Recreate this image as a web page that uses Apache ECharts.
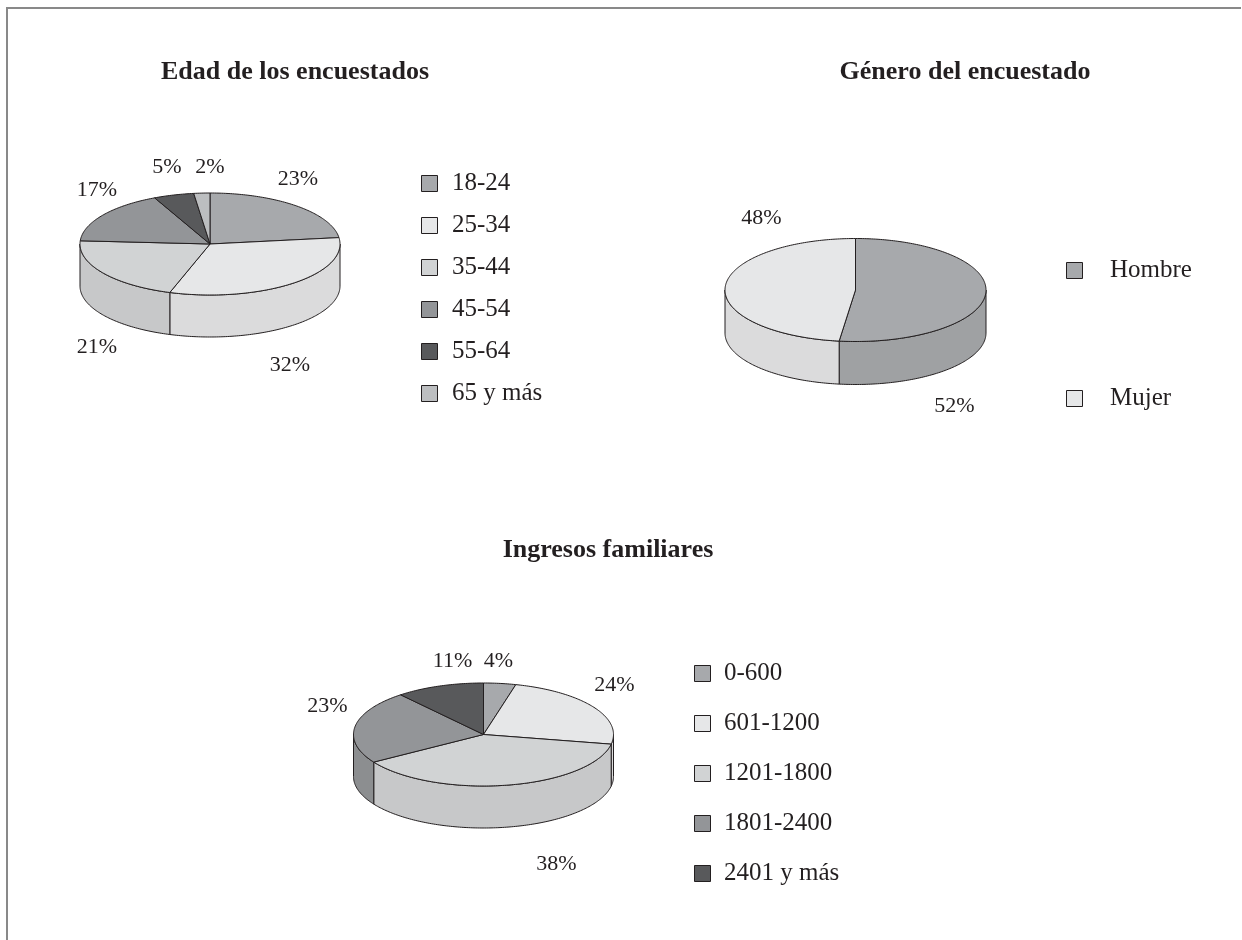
<!DOCTYPE html>
<html>
<head>
<meta charset="utf-8">
<script src="https://cdn.jsdelivr.net/npm/echarts@6/dist/echarts.min.js"></script>
<style>
html,body{margin:0;padding:0;background:#ffffff;}
#chart{width:1242px;height:940px;}
</style>
</head>
<body>
<div id="chart"></div>
<script>
// ---------- DATA ----------
const titles = ['Edad de los encuestados', 'Género del encuestado', 'Ingresos familiares'];

const ageCategories = ['18-24', '25-34', '35-44', '45-54', '55-64', '65 y más'];
const ageValues = [23, 32, 21, 17, 5, 2];

const genderCategories = ['Hombre', 'Mujer'];
const genderValues = [52, 48];

const incomeCategories = ['0-600', '601-1200', '1201-1800', '1801-2400', '2401 y más'];
const incomeValues = [4, 24, 38, 23, 11];

// ---------- STYLE / LAYOUT ----------
const ageColors = ['#a7a9ac', '#e6e7e8', '#d1d3d4', '#939598', '#58595b', '#bcbec0'];
const genderColors = ['#a7a9ac', '#e6e7e8'];
const incomeColors = ['#a7a9ac', '#e6e7e8', '#d1d3d4', '#939598', '#58595b'];

const ink = '#231f20';
const serif = '"Liberation Serif", "Times New Roman", serif';

// label offsets (pixels, relative to each pie's centre) for the percentage texts
const ageLabelOffsets = [[88, -65], [80, 121], [-113, 103], [-113, -54], [-43, -77], [0, -77]];
const genderLabelOffsets = [[99, 116], [-94, -72]];
const incomeLabelOffsets = [[15, -73], [131, -49], [73, 130], [-156, -28], [-31, -73]];

const pies = [
  { categories: ageCategories, values: ageValues, colors: ageColors, labelOffsets: ageLabelOffsets,
    cx: 210, cy: 244, rx: 130, ry: 51, depth: 42,
    legend: { x: 421, y: 183, gap: 42, textX: 452 } },
  { categories: genderCategories, values: genderValues, colors: genderColors, labelOffsets: genderLabelOffsets,
    cx: 855.5, cy: 290, rx: 130.5, ry: 51.5, depth: 43,
    legend: { x: 1066, y: 270, gap: 128, textX: 1110 } },
  { categories: incomeCategories, values: incomeValues, colors: incomeColors, labelOffsets: incomeLabelOffsets,
    cx: 483.5, cy: 734.5, rx: 130, ry: 51.5, depth: 42,
    legend: { x: 694, y: 673, gap: 50, textX: 724 } }
];

const titlePos = [[295, 72], [965, 72], [608, 550]];

function shade(hex, f) {
  const n = parseInt(hex.slice(1), 16);
  const r = Math.round(((n >> 16) & 255) * f);
  const g = Math.round(((n >> 8) & 255) * f);
  const b = Math.round((n & 255) * f);
  return 'rgb(' + r + ',' + g + ',' + b + ')';
}

function makeSeries(p, idx) {
  return {
    type: 'custom',
    name: 'pie' + idx,
    coordinateSystem: 'none',
    silent: true,
    animation: false,
    data: p.values.map((v, i) => ({ name: p.categories[i], value: v })),
    renderItem: function (params, api) {
      const i = params.dataIndex;
      const total = p.values.reduce((s, v) => s + v, 0);
      let before = 0;
      for (let k = 0; k < i; k++) before += p.values[k];
      const val = api.value(0);
      const a = before / total * 2 * Math.PI;
      const b = (before + val) / total * 2 * Math.PI;
      const pt = (t, dy) => [p.cx + p.rx * Math.sin(t), p.cy - p.ry * Math.cos(t) + (dy || 0)];
      const arc = (t0, t1, dy) => {
        const n = Math.max(2, Math.ceil((t1 - t0) / (Math.PI / 180)));
        const out = [];
        for (let k = 0; k <= n; k++) out.push(pt(t0 + (t1 - t0) * k / n, dy));
        return out;
      };
      const color = p.colors[i];
      const children = [];
      const s0 = Math.max(a, Math.PI / 2), s1 = Math.min(b, 1.5 * Math.PI);
      if (s1 > s0) {
        const pts = arc(s0, s1, 0).concat(arc(s0, s1, p.depth).reverse());
        children.push({ type: 'polygon', shape: { points: pts },
          style: { fill: shade(color, 0.95), stroke: ink, lineWidth: 1, lineJoin: 'round' } });
      }
      children.push({ type: 'polygon', shape: { points: [[p.cx, p.cy]].concat(arc(a, b, 0)) },
        style: { fill: color, stroke: ink, lineWidth: 1, lineJoin: 'round' } });
      const off = p.labelOffsets[i];
      children.push({ type: 'text', x: p.cx + off[0], y: p.cy + off[1],
        style: { text: val + '%', fill: ink, font: '22px ' + serif,
          align: 'center', verticalAlign: 'middle', textAlign: 'center', textVerticalAlign: 'middle' } });
      const ly = p.legend.y + i * p.legend.gap;
      children.push({ type: 'rect', shape: { x: p.legend.x + 0.5, y: Math.round(ly - 8) + 0.5, width: 16, height: 16 },
        style: { fill: color, stroke: ink, lineWidth: 1 } });
      children.push({ type: 'text', x: p.legend.textX, y: ly,
        style: { text: p.categories[i], fill: ink, font: '25px ' + serif,
          align: 'left', verticalAlign: 'middle', textAlign: 'left', textVerticalAlign: 'middle' } });
      return { type: 'group', children: children };
    }
  };
}

const chart = echarts.init(document.getElementById('chart'), null, { renderer: 'canvas' });
chart.setOption({
  backgroundColor: '#ffffff',
  animation: false,
  graphic: [
    { type: 'line', shape: { x1: 6, y1: 8, x2: 1241, y2: 8 }, style: { stroke: '#898989', lineWidth: 2 } },
    { type: 'line', shape: { x1: 7, y1: 7, x2: 7, y2: 940 }, style: { stroke: '#898989', lineWidth: 2 } }
  ].concat(titles.map((t, i) => ({
    type: 'text', x: titlePos[i][0], y: titlePos[i][1],
    style: { text: t, fill: ink, font: 'bold 26px ' + serif,
      align: 'center', verticalAlign: 'middle', textAlign: 'center', textVerticalAlign: 'middle' }
  }))),
  series: pies.map(makeSeries)
});
</script>
</body>
</html>
